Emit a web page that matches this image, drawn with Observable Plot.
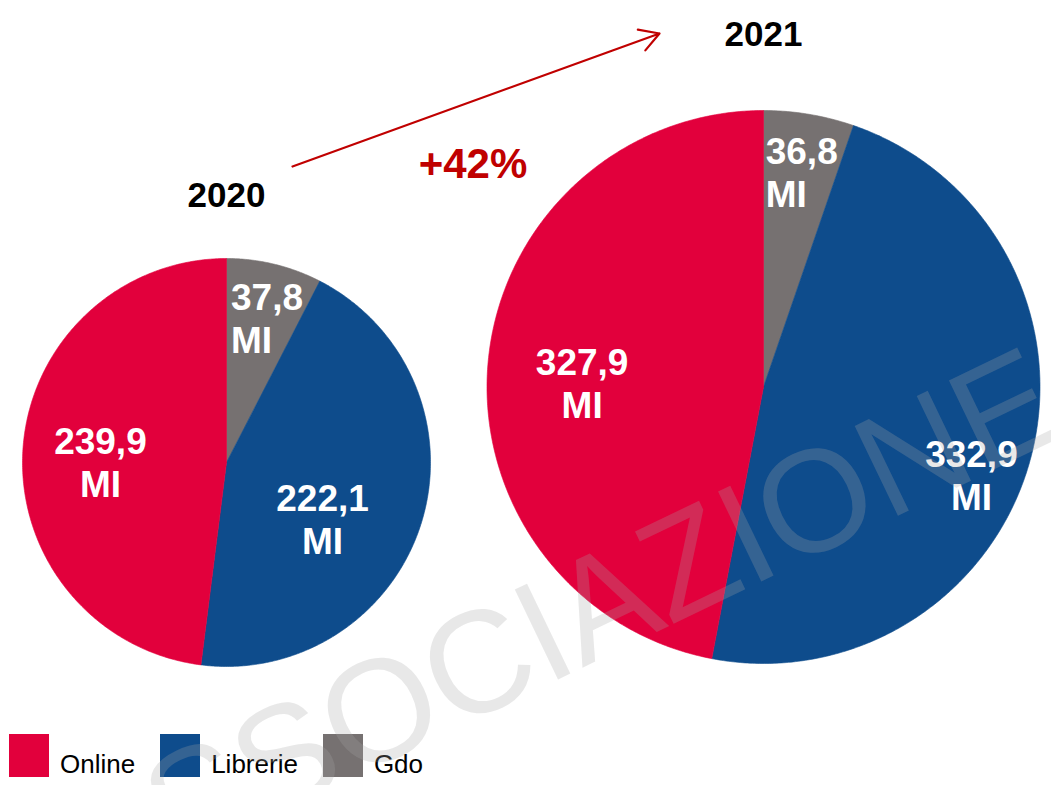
<!DOCTYPE html>
<html><head><meta charset="utf-8">
<script src="https://cdn.jsdelivr.net/npm/d3@7"></script>
<script src="https://cdn.jsdelivr.net/npm/@observablehq/plot@0.6"></script>
<style>
html,body{margin:0;padding:0;background:#fff;}
#wrap{position:relative;width:1051px;height:785px;overflow:hidden;font-family:"Liberation Sans",Arial,sans-serif;}
#legend{position:absolute;left:9px;top:734px;display:flex;}
.item{display:flex;align-items:flex-start;margin-right:25px;}
.sw{width:40px;height:43px;}
.lab{font-size:26px;line-height:26px;margin-top:17px;margin-left:11px;color:#000;white-space:nowrap;}
#chart{position:absolute;left:0;top:0;}
</style></head>
<body><div id="wrap"><div id="legend"></div><div id="chart"></div></div>
<script>
// ---- data ----
const categories = ["Gdo", "Librerie", "Online"];
const colors = ["#767171", "#0E4C8C", "#E2003C"];
const years = ["2020", "2021"];
const values2020 = [37.8, 222.1, 239.9];
const values2021 = [36.8, 332.9, 327.9];
const unit = "MI";
const growthLabel = ["+42%"];
const legendOrder = ["Online", "Librerie", "Gdo"];
const watermark = ["ASSOCIAZIONE"];

// ---- layout (not data) ----
const W = 1051, H = 785;
const pieLayout = {
  "2020": {cx: 226, cy: 462, r: 204, yearY: 194.8},
  "2021": {cx: 763, cy: 386.5, r: 276.5, yearY: 33.8}
};
const labelOffsets = {
  "2020": {Gdo: [0.022, -0.712], Librerie: [0.471, 0.278], Online: [-0.618, -0.006]},
  "2021": {Gdo: [0.008, -0.780], Librerie: [0.752, 0.319], Online: [-0.656, -0.016]}
};
const arrowLayout = {x1: 292, y1: 166, x2: 659, y2: 33};
const growthPos = {x: 472.5, y: 163.6};
const watermarkPos = {x: 68, y: 863, rotate: -25.7};

const valuesByYear = {"2020": values2020, "2021": values2021};
const fmt = v => v.toFixed(1).replace(".", ",");

// slices
const slicePts = [];
const labelData = [];
for (const year of years) {
  const L = pieLayout[year];
  const rows = categories.map((c, i) => ({category: c, value: valuesByYear[year][i]}));
  const arcs = d3.pie().sort(null).value(d => d.value)(rows);
  for (const a of arcs) {
    const key = year + "-" + a.data.category;
    const cat = a.data.category;
    slicePts.push({key, category: cat, x: L.cx, y: L.cy});
    const n = Math.max(2, Math.ceil((a.endAngle - a.startAngle) / (Math.PI / 360)));
    for (let k = 0; k <= n; k++) {
      const t = a.startAngle + (a.endAngle - a.startAngle) * k / n;
      slicePts.push({key, category: cat, x: L.cx + L.r * Math.sin(t), y: L.cy - L.r * Math.cos(t)});
    }
    slicePts.push({key, category: cat, x: L.cx, y: L.cy});
    const off = labelOffsets[year][cat];
    labelData.push({year, category: cat, x: L.cx + L.r * off[0], y: L.cy + L.r * off[1], text: fmt(a.data.value) + "\n" + unit});
  }
}

const labelStyle = {x: "x", y: "y", text: "text", fill: "white", fontWeight: "bold", fontSize: 37, lineHeight: 1.162};

const plot = Plot.plot({
  width: W, height: H,
  margin: 0,
  x: {domain: [0, W], range: [0, W], axis: null},
  y: {domain: [0, H], range: [0, H], axis: null},
  color: {domain: categories, range: colors},
  style: {fontFamily: "'Liberation Sans', Arial, sans-serif", background: "transparent", overflow: "hidden"},
  marks: [
    Plot.line(slicePts, {x: "x", y: "y", z: "key", fill: "category", stroke: "category", strokeWidth: 0.6, curve: "linear"}),
    Plot.text(labelData.filter(d => d.category === "Gdo"), {...labelStyle, textAnchor: "start"}),
    Plot.text(labelData.filter(d => d.category !== "Gdo"), {...labelStyle, textAnchor: "middle"}),
    Plot.text(years, {x: d => pieLayout[d].cx, y: d => pieLayout[d].yearY, text: d => d, fontSize: 35, fontWeight: "bold", fill: "black"}),
    Plot.text(growthLabel, {x: () => growthPos.x, y: () => growthPos.y, text: d => d, fontSize: 42, fontWeight: "bold", fill: "#C00000"}),
    Plot.arrow([arrowLayout], {x1: "x1", y1: "y1", x2: "x2", y2: "y2", stroke: "#C00000", strokeWidth: 2.2, headLength: 15, headAngle: 60}),
    Plot.text(watermark, {x: () => watermarkPos.x, y: () => watermarkPos.y, text: d => d, rotate: watermarkPos.rotate, textAnchor: "start", fontSize: 145, fill: "#a7a7a7", fillOpacity: 0.26})
  ]
});
document.getElementById("chart").appendChild(plot);

// legend
const legend = document.getElementById("legend");
for (const c of legendOrder) {
  const item = document.createElement("div");
  item.className = "item";
  const sw = document.createElement("div");
  sw.className = "sw";
  sw.style.background = colors[categories.indexOf(c)];
  const lab = document.createElement("span");
  lab.className = "lab";
  lab.textContent = c;
  item.appendChild(sw); item.appendChild(lab);
  legend.appendChild(item);
}
</script>
</body></html>
